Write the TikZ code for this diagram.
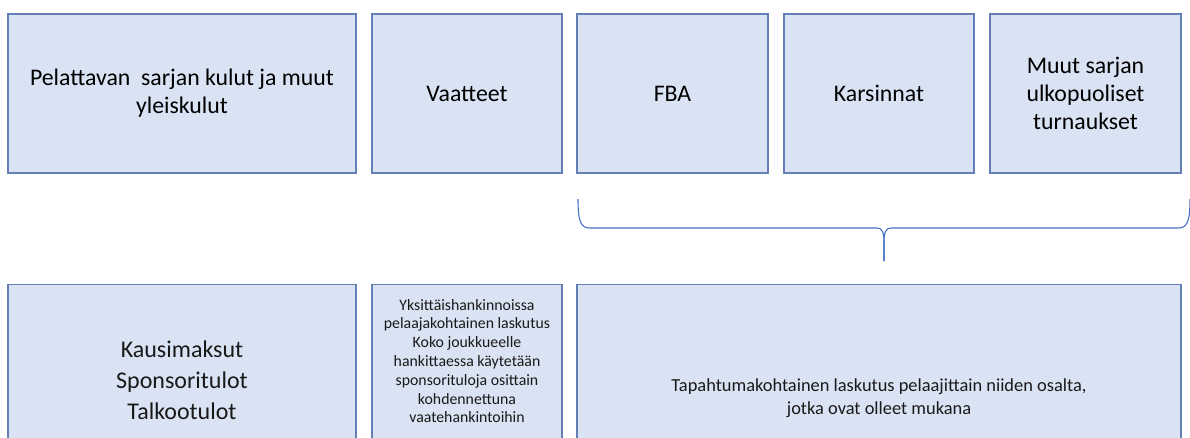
\documentclass[tikz,border=0pt]{standalone}
\usepackage{fontspec}
\setmainfont{Carlito}
\definecolor{boxfill}{HTML}{DAE3F3}
\definecolor{boxline}{RGB}{100,126,182}
\definecolor{braceline}{HTML}{4472C4}
\begin{document}
\begin{tikzpicture}[x=1pt,y=-1pt,
    box/.style={draw=boxline, fill=boxfill, line width=1.2pt, inner sep=0pt, align=center},
    txt/.style={inner sep=0pt, align=center, text=black!90}]
  \useasboundingbox (0,0) rectangle (1190,437);
  \clip (0,0) rectangle (1190,437);

  % kulut
  \node[box, minimum width=348, minimum height=159, font=\fontsize{23.8}{28}\selectfont] (sarja) at (182,93.5) {Pelattavan\ \ sarjan kulut ja muut\\yleiskulut};
  \node[box, minimum width=190, minimum height=159, font=\fontsize{23.8}{28}\selectfont] (vaatteet) at (467,93.5) {Vaatteet};
  \node[box, minimum width=191, minimum height=159, font=\fontsize{23.8}{28}\selectfont] (fba) at (672.5,93.5) {FBA};
  \node[box, minimum width=190, minimum height=159, font=\fontsize{23.8}{28}\selectfont] (karsinnat) at (879,93.5) {Karsinnat};
  \node[box, minimum width=191, minimum height=159, font=\fontsize{23.8}{28}\selectfont] (muut) at (1085.5,93.5) {Muut sarjan\\ulkopuoliset\\turnaukset};

  % rahoitus
  \node[box, anchor=north, minimum width=348, minimum height=200] (kausi) at (182,284) {};
  \node[box, anchor=north, minimum width=190, minimum height=200] (vaatelasku) at (467,284) {};
  \node[box, anchor=north, minimum width=604, minimum height=200] (tapahtuma) at (879,284) {};

  \node[txt, font=\fontsize{24}{31}\selectfont] (kausiT) at (182,380) {Kausimaksut\\Sponsoritulot\\Talkootulot};
  \node[txt, font=\fontsize{15.8}{18.8}\selectfont] (vaatelaskuT) at (467,361) {Yksittäishankinnoissa\\pelaajakohtainen laskutus\\Koko joukkueelle\\hankittaessa käytetään\\sponsorituloja osittain\\kohdennettuna\\vaatehankintoihin};
  \node[txt, font=\fontsize{18.4}{23}\selectfont] (tapahtumaT) at (879,398) {Tapahtumakohtainen laskutus pelaajittain niiden osalta,\\jotka ovat olleet mukana};

  % sulku
  \coordinate (braceL) at (578,199);
  \coordinate (braceR) at (1190,199);
  \coordinate (braceTip) at (884,261);
  \draw[braceline, line width=1.1pt] (braceL) .. controls (578,222) and (581,228) .. (590,228)
    -- (877,228) .. controls (882,228) and (884,232) .. (884,242) -- (braceTip);
  \draw[braceline, line width=1.1pt] (braceR) .. controls (1190,222) and (1187,228) .. (1178,228)
    -- (891,228) .. controls (886,228) and (884,232) .. (884,242) -- (braceTip);
\end{tikzpicture}
\end{document}
